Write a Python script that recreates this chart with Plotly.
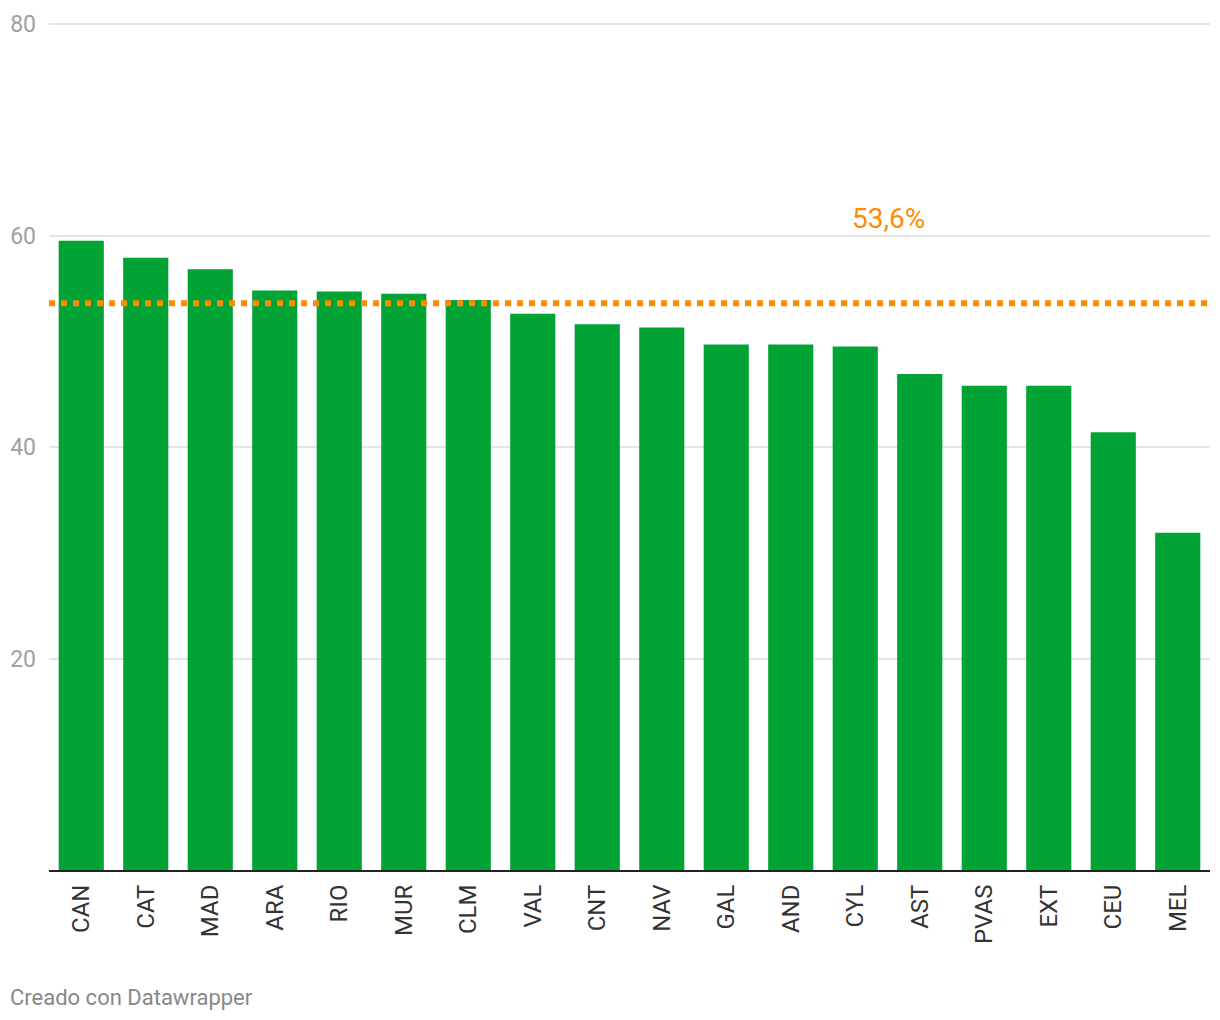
import plotly.graph_objects as go

categories = ["CAN", "CAT", "MAD", "ARA", "RIO", "MUR", "CLM", "VAL", "CNT",
              "NAV", "GAL", "AND", "CYL", "AST", "PVAS", "EXT", "CEU", "MEL"]
values = [59.5, 57.9, 56.8, 54.8, 54.7, 54.5, 53.9, 52.6, 51.6,
          51.3, 49.7, 49.7, 49.5, 46.9, 45.8, 45.8, 41.4, 31.9]
average = 53.6
average_label = "53,6%"
y_ticks = [20, 40, 60, 80]
footer = "Creado con Datawrapper"

PW = 1161  # plot width px
PH = 848   # plot height px

fig = go.Figure()
fig.add_trace(go.Bar(
    x=categories, y=values,
    marker=dict(color="#01a334", line=dict(width=0)),
    hoverinfo="x+y",
))

fig.add_shape(type="line", xref="paper", yref="y",
              x0=0, x1=1, y0=average, y1=average,
              line=dict(color="#ff8c00", width=6, dash="6px,6px"), layer="above")

fig.add_annotation(xref="paper", yref="y", x=(888 - 49) / PW, y=61.65,
                   text=average_label, showarrow=False,
                   font=dict(family="Roboto", size=28, color="#ff8c00"),
                   xanchor="center", yanchor="middle")

fig.add_annotation(xref="paper", yref="paper", x=(8 - 49) / PW, y=-(997 - 870) / PH,
                   text=footer, showarrow=False,
                   font=dict(family="Roboto", size=22, color="#888888"),
                   xanchor="left", yanchor="middle")

fig.update_layout(
    width=1220, height=1020,
    margin=dict(l=49, r=10, t=22, b=150, pad=0),
    plot_bgcolor="white", paper_bgcolor="white",
    bargap=0.30,
    showlegend=False,
    font=dict(family="Roboto"),
    xaxis=dict(
        tickangle=-90,
        tickfont=dict(family="Roboto", size=24, color="#333333"),
        showline=True, linecolor="#222222", linewidth=2,
        showgrid=False, ticks="", ticklabelstandoff=3,
        fixedrange=True,
    ),
    yaxis=dict(
        range=[0, 80 * PH / 846],
        tickvals=y_ticks,
        tickfont=dict(family="Roboto", size=23, color="#a0a0a0"),
        showgrid=True, gridcolor="#e4e4e4", gridwidth=2,
        zeroline=False, showline=False, ticks="",
        ticklabelstandoff=12,
        fixedrange=True,
    ),
)

fig.write_html("out.html", config={"displayModeBar": False},
               post_script="document.body.style.margin='0';")
